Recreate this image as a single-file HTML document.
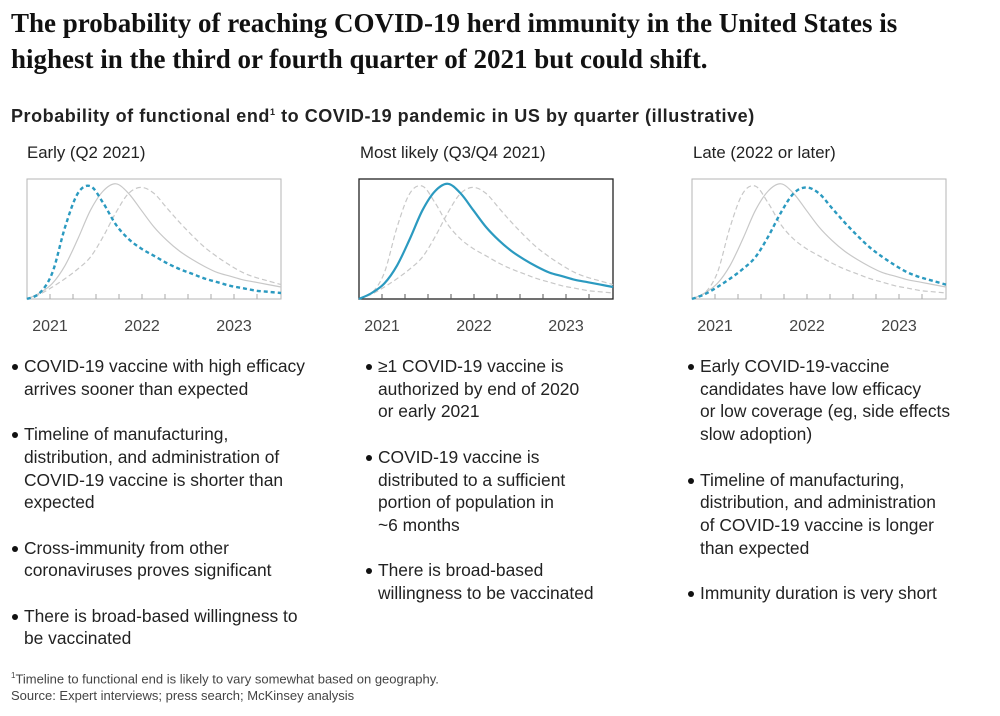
<!DOCTYPE html>
<html><head><meta charset="utf-8"><style>
body{margin:0;width:1000px;height:716px;background:#fff;position:relative;font-family:"Liberation Sans",sans-serif;color:#1a1a1a;overflow:hidden}
.abs{position:absolute}
h1{position:absolute;left:11px;top:5px;margin:0;font-family:"Liberation Serif",serif;font-weight:bold;font-size:27px;line-height:36px;color:#111;white-space:nowrap}
.sub{left:11px;top:106px;font-size:18px;font-weight:bold;color:#222;letter-spacing:0.55px;white-space:nowrap}
.ph{font-size:16.8px;color:#222;top:143px}
ul{position:absolute;margin:0;padding:0;list-style:none;font-size:17.4px;line-height:22.7px;color:#222}
li{position:relative;padding-left:12px;margin-bottom:22.7px;white-space:nowrap}
li:before{content:"";position:absolute;left:0;top:9px;width:6px;height:6px;border-radius:50%;background:#111}
.fn{left:11px;font-size:13px;color:#444;white-space:nowrap}
</style></head><body>
<h1>The probability of reaching COVID-19 herd immunity in the United States is<br>highest in the third or fourth quarter of 2021 but could shift.</h1>
<div class="abs sub">Probability of functional end<sup style="font-size:9px">1</sup> to COVID-19 pandemic in US by quarter (illustrative)</div>
<div class="abs ph" style="left:27px">Early (Q2 2021)</div>
<div class="abs ph" style="left:360px">Most likely (Q3/Q4 2021)</div>
<div class="abs ph" style="left:693px">Late (2022 or later)</div>
<svg id="charts" class="abs" style="left:0;top:0" width="1000" height="340"></svg>
<ul style="left:12px;top:355px;width:330px">
<li>COVID-19 vaccine with high efficacy<br>arrives sooner than expected</li>
<li>Timeline of manufacturing,<br>distribution, and administration of<br>COVID-19 vaccine is shorter than<br>expected</li>
<li>Cross-immunity from other<br>coronaviruses proves significant</li>
<li>There is broad-based willingness to<br>be vaccinated</li>
</ul>
<ul style="left:366px;top:355px;width:310px">
<li>≥1 COVID-19 vaccine is<br>authorized by end of 2020<br>or early 2021</li>
<li>COVID-19 vaccine is<br>distributed to a sufficient<br>portion of population in<br>~6 months</li>
<li>There is broad-based<br>willingness to be vaccinated</li>
</ul>
<ul style="left:688px;top:355px;width:310px">
<li>Early COVID-19-vaccine<br>candidates have low efficacy<br>or low coverage (eg, side effects<br>slow adoption)</li>
<li>Timeline of manufacturing,<br>distribution, and administration<br>of COVID-19 vaccine is longer<br>than expected</li>
<li>Immunity duration is very short</li>
</ul>
<div class="abs fn" style="top:671px"><sup style="font-size:8px">1</sup>Timeline to functional end is likely to vary somewhat based on geography.</div>
<div class="abs fn" style="top:688px">Source: Expert interviews; press search; McKinsey analysis</div>
<script>
const xFractions=[0,.05,.1,.15,.2,.25,.3,.35,.4,.45,.5,.55,.6,.65,.7,.75,.8,.85,.9,.95,1];
const earlyValues=[0,.05,.22,.6,.88,.94,.8,.62,.5,.42,.36,.3,.25,.21,.17,.14,.11,.09,.07,.06,.05];
const likelyValues=[0,.05,.13,.28,.5,.74,.9,.96,.88,.74,.6,.49,.4,.33,.27,.22,.19,.16,.14,.12,.1];
const lateValues=[0,.04,.1,.17,.25,.35,.52,.72,.88,.93,.88,.76,.64,.53,.43,.35,.28,.22,.18,.15,.12];
const yearLabels=["2021","2022","2023"];
const yearTickIndex=[1,5,9];
const NS="http://www.w3.org/2000/svg";
const svg=document.getElementById('charts');
const W=254,TOP=179,H=120,BOT=299;
function mk(t,a){const e=document.createElementNS(NS,t);for(const k in a)e.setAttribute(k,a[k]);return e;}
function path(x0,vals){
  const sx=f=>x0+f*W, sy=v=>BOT-v*H;
  const p=vals.map((v,i)=>[sx(xFractions[i]),sy(v)]);
  let d=`M${p[0][0]},${p[0][1]}`;
  for(let i=0;i<p.length-1;i++){
    const p0=p[i-1]||p[i],p1=p[i],p2=p[i+1],p3=p[i+2]||p2;
    d+=` C${p1[0]+(p2[0]-p0[0])/6},${p1[1]+(p2[1]-p0[1])/6} ${p2[0]-(p3[0]-p1[0])/6},${p2[1]-(p3[1]-p1[1])/6} ${p2[0]},${p2[1]}`;
  }
  return d;
}
const panels=[
 {x:27,name:'early',box:'#b5b5b5',hi:0},
 {x:359,name:'most-likely',box:'#222',hi:1},
 {x:692,name:'late',box:'#b5b5b5',hi:2}];
const series=[earlyValues,likelyValues,lateValues];
const styles=[{dash:'4 3'},{dash:null},{dash:'4 3'}];
panels.forEach(pn=>{
  const g=mk('g',{});
  
  
  svg.appendChild(g);
  const r=mk('rect',{x:pn.x,y:TOP,width:W,height:H,fill:'none',stroke:pn.box,'stroke-width':pn.hi==1?1.3:1});
  
  
  g.appendChild(r);
  for(let k=1;k<=10;k++){
    const tx=pn.x+k*23;
    const t=mk('line',{x1:tx,x2:tx,y1:BOT,y2:BOT-5,stroke:pn.hi==1?'#555':'#aaa','stroke-width':1});
    
    
    g.appendChild(t);
  }
  yearLabels.forEach((lab,i)=>{
    const t=mk('text',{x:pn.x+yearTickIndex[i]*23,y:331,'text-anchor':'middle','font-size':16,fill:'#444','font-family':'Liberation Sans, sans-serif'});
    t.textContent=lab;
    
    
    g.appendChild(t);
  });
  series.forEach((vals,si)=>{
    if(si===pn.hi)return;
    const a={d:path(pn.x,vals),fill:'none',stroke:'#c8c8c8','stroke-width':1.2};
    if(styles[si].dash||pn.hi==1)a['stroke-dasharray']='5 3';
    const p=mk('path',a);
    
    
    g.appendChild(p);
  });
  const a={d:path(pn.x,series[pn.hi]),fill:'none',stroke:'#2b9ac0','stroke-width':pn.hi==1?2.2:2.4};
  if(styles[pn.hi].dash)a['stroke-dasharray']='4 3';
  const p=mk('path',a);
  
  
  g.appendChild(p);
});
</script>
</body></html>
